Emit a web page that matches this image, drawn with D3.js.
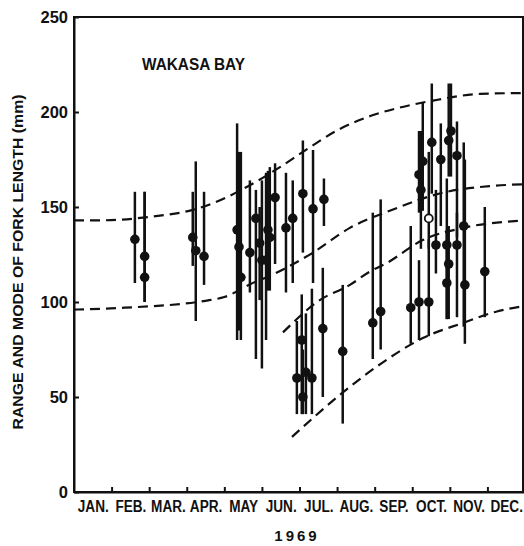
<!DOCTYPE html>
<html>
<head>
<meta charset="utf-8">
<script src="https://cdn.jsdelivr.net/npm/d3@7"></script>
<style>
body { margin: 0; background: #fff; }
text { font-family: "Liberation Sans", Arial, sans-serif; font-weight: bold; fill: #111; }
</style>
</head>
<body>
<script>
const width = 524;
const height = 546;

const monthLabels = ["JAN.", "FEB.", "MAR.", "APR.", "MAY", "JUN.", "JUL.", "AUG.", "SEP.", "OCT.", "NOV.", "DEC."];
const yTicks = [0, 50, 100, 150, 200, 250];

// sample date (month units from Jan 1), mode, lowest and highest fork length
const sampleMonth = [1.62, 1.88, 1.88, 3.16, 3.24, 3.46, 4.34, 4.39, 4.44, 4.68, 4.84, 4.94, 5.0, 5.11, 5.16, 5.21, 5.35,
	5.64, 5.82, 6.09, 6.36, 6.65, 5.93, 6.06, 6.17, 6.09, 6.33, 6.62, 7.15, 7.95, 8.16,
	8.96, 9.18, 9.44, 9.18, 9.23, 9.28, 9.44, 9.52, 9.63, 9.76, 9.92, 9.92, 9.97, 9.97, 10.03, 10.19, 10.19, 10.37, 10.4, 10.93];
const sampleMode = [133, 124, 113, 134, 127, 124, 138, 129, 113, 126, 144, 131, 122, 122, 138, 134, 155,
	139, 144, 157, 149, 154, 60, 80, 63, 50, 60, 86, 74, 89, 95,
	97, 100, 100, 167, 159, 174, 144, 184, 130, 175, 130, 110, 120, 185, 190, 130, 177, 140, 109, 116];
const sampleLow = [110, 100, 100, 119, 90, 109, 80, 85, 80, 105, 70, 101, 65, 80, 106, 106, 120,
	105, 110, 126, 110, 140, 41, 41, 41, 41, 41, 50, 36, 70, 75,
	78, 80, 82, 147, 128, 148, 128, 157, 115, 140, 91, 91, 91, 166, 166, 92, 134, 87, 78, 92];
const sampleHigh = [158, 158, 158, 158, 174, 158, 194, 179, 179, 164, 159, 150, 164, 168, 169, 171, 173,
	168, 164, 185, 180, 165, 90, 104, 94, 75, 107, 118, 109, 147, 154,
	140, 122, 133, 190, 190, 205, 179, 215, 159, 194, 165, 138, 140, 215, 215, 147, 195, 184, 175, 150];
const sampleOpen = [37];

// dashed growth curves
const curveAMonth = [0, 0.7, 2.1, 3.16, 3.7, 4.5, 5.48, 6.09, 7.02, 7.9, 8.6, 9.55, 10.8, 12];
const curveALength = [143, 143, 145, 148.5, 152, 159.5, 171, 179, 190.5, 198, 202, 206, 209.5, 210];
const curveBMonth = [0, 1.35, 3.6, 4.0, 4.7, 5.35, 5.6, 6.36, 7.34, 8.4, 9.92, 11.06, 12];
const curveBLength = [96, 97, 101, 102.6, 109.5, 115, 117.5, 126, 139, 148, 158, 161, 162];
const curveCMonth = [5.56, 6.54, 7.34, 7.87, 8.32, 9.28, 10.35, 12];
const curveCLength = [84, 101, 109, 116, 120.5, 132.6, 139, 143];
const curveDMonth = [5.8, 7.13, 8.2, 9.28, 10.35, 11.25, 12];
const curveDLength = [29, 52, 68, 81, 89, 95, 98];

const margin = {left: 74, top: 17, right: 523, bottom: 492};

const x = d3.scaleLinear().domain([0, 12]).range([margin.left, 525]);
const y = d3.scaleLinear().domain([0, 250]).range([margin.bottom, margin.top]);

const svg = d3.select("body").append("svg")
	.attr("width", width)
	.attr("height", height);

// frame
svg.append("rect")
	.attr("x", margin.left)
	.attr("y", margin.top)
	.attr("width", margin.right - margin.left)
	.attr("height", margin.bottom - margin.top)
	.attr("fill", "none")
	.attr("stroke", "#111")
	.attr("stroke-width", 2);

const yAxis = svg.append("g")
	.attr("transform", "translate(" + margin.left + ",0)")
	.call(d3.axisLeft(y).tickValues(yTicks).tickSize(-5).tickSizeOuter(0).tickPadding(6));
yAxis.selectAll("text").attr("font-size", 16.5);

const xTicks = svg.append("g")
	.attr("transform", "translate(0," + margin.bottom + ")")
	.call(d3.axisBottom(x).tickValues(d3.range(1, 12)).tickSize(-5).tickSizeOuter(0).tickFormat(""));

const xLabels = svg.append("g")
	.attr("transform", "translate(0," + margin.bottom + ")")
	.call(d3.axisBottom(x).tickValues(d3.range(12).map((i) => i + 0.5)).tickSize(0).tickPadding(8)
		.tickFormat((d) => monthLabels[Math.floor(d)]));
xLabels.select(".domain").remove();
xLabels.selectAll("text")
	.attr("font-size", 17)
	.attr("transform", "scale(0.8,1)");

svg.selectAll(".domain, .tick line").attr("stroke", "#111").attr("stroke-width", 2);
svg.selectAll(".tick text").attr("fill", "#111").attr("font-family", null);

// dashed curves
const line = d3.line().x((d) => x(d[0])).y((d) => y(d[1])).curve(d3.curveMonotoneX);
const curves = [
	d3.zip(curveAMonth, curveALength),
	d3.zip(curveBMonth, curveBLength),
	d3.zip(curveCMonth, curveCLength),
	d3.zip(curveDMonth, curveDLength)
];
svg.append("g").selectAll("path")
	.data(curves)
	.enter()
	.append("path")
	.attr("d", line)
	.attr("fill", "none")
	.attr("stroke", "#111")
	.attr("stroke-width", 2.2)
	.attr("stroke-dasharray", "10,6");

const samples = sampleMonth.map((m, i) => ({
	month: m, mode: sampleMode[i], lo: sampleLow[i], hi: sampleHigh[i], open: sampleOpen.includes(i)
}));

svg.append("g").selectAll("line")
	.data(samples)
	.enter()
	.append("line")
	.attr("x1", (d) => x(d.month))
	.attr("x2", (d) => x(d.month))
	.attr("y1", (d) => y(d.lo))
	.attr("y2", (d) => y(d.hi))
	.attr("stroke", "#111")
	.attr("stroke-width", 2.5);

svg.append("g").selectAll("circle")
	.data(samples)
	.enter()
	.append("circle")
	.attr("cx", (d) => x(d.month))
	.attr("cy", (d) => y(d.mode))
	.attr("r", (d) => d.open ? 4 : 4.8)
	.attr("fill", (d) => d.open ? "#fff" : "#111")
	.attr("stroke", "#111")
	.attr("stroke-width", (d) => d.open ? 1.8 : 0);

svg.append("text")
	.attr("x", 142)
	.attr("y", 70)
	.attr("font-size", 16)
	.attr("textLength", 103)
	.attr("lengthAdjust", "spacingAndGlyphs")
	.text("WAKASA BAY");

svg.append("text")
	.attr("transform", "translate(23,262) rotate(-90)")
	.attr("text-anchor", "middle")
	.attr("font-size", 14)
	.attr("textLength", 335)
	.attr("lengthAdjust", "spacingAndGlyphs")
	.text("RANGE AND MODE OF FORK LENGTH (mm)");

svg.append("text")
	.attr("x", 297)
	.attr("y", 541)
	.attr("text-anchor", "middle")
	.attr("font-size", 15)
	.attr("letter-spacing", 3)
	.text("1969");
</script>
</body>
</html>
